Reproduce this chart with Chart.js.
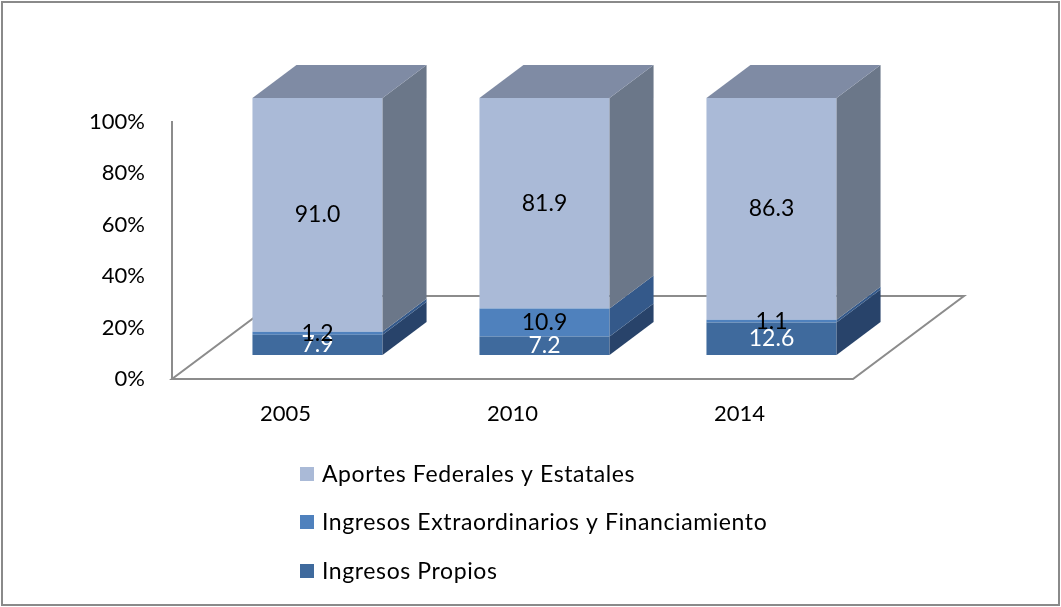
<!DOCTYPE html>
<html lang="es">
<head>
<meta charset="UTF-8">
<title>Estructura de ingresos</title>
<script src="https://cdn.jsdelivr.net/npm/chart.js@4/dist/chart.umd.min.js"></script>
<style>
    body { margin: 0; background: #fff; }
    canvas { display: block; }
</style>
</head>
<body>
<canvas id="grafica" width="1061" height="607"></canvas>
<script>
const categories = ['2005', '2010', '2014'];
const propios = [7.9, 7.2, 12.6];
const extraordinarios = [1.2, 10.9, 1.1];
const aportes = [91.0, 81.9, 86.3];
const yTicks = [0, 20, 40, 60, 80, 100];

// 100% stacked: each column is scaled to its own total
const totals = categories.map((c, i) => propios[i] + extraordinarios[i] + aportes[i]);
const share = arr => arr.map((v, i) => v / totals[i] * 100);

const FONT = 'Lato, "Open Sans", sans-serif';
// pseudo 3d geometry
const SHIFT_X = 32, SHIFT_Y = -24;   // bars sit a bit behind the floor front edge
const DEPTH_X = 44, DEPTH_Y = -33;   // column depth
const FLOOR_X = 111, FLOOR_Y = -83;  // floor depth

const box3d = {
    id: 'box3d',
    beforeDraw(chart) {
        const ctx = chart.ctx;
        ctx.save();
        ctx.fillStyle = '#fff';
        ctx.fillRect(0, 0, chart.width, chart.height);
        ctx.strokeStyle = '#8a8a8a';
        ctx.lineWidth = 2;
        ctx.strokeRect(2, 2, chart.width - 4, chart.height - 4);
        ctx.restore();
    },
    beforeDatasetsDraw(chart) {
        const ctx = chart.ctx;
        const x = chart.scales.x, y = chart.scales.y;
        const y0 = y.getPixelForValue(0);
        ctx.save();
        ctx.strokeStyle = '#8c8c8c';
        ctx.lineWidth = 2;
        ctx.beginPath();
        ctx.moveTo(x.left, y0);
        ctx.lineTo(x.right, y0);
        ctx.lineTo(x.right + FLOOR_X, y0 + FLOOR_Y);
        ctx.lineTo(x.left + FLOOR_X, y0 + FLOOR_Y);
        ctx.closePath();
        ctx.stroke();
        ctx.restore();
        ctx.save();
        ctx.translate(SHIFT_X, SHIFT_Y);
    },
    afterDatasetsDraw(chart) {
        const ctx = chart.ctx;
        const sets = chart.data.datasets;
        sets.forEach((ds, di) => {
            const meta = chart.getDatasetMeta(di);
            meta.data.forEach(bar => {
                const x2 = bar.x + bar.width / 2, x1 = bar.x - bar.width / 2;
                const top = Math.min(bar.y, bar.base), bot = Math.max(bar.y, bar.base);
                ctx.fillStyle = ds.sideColor;
                ctx.beginPath();
                ctx.moveTo(x2, top);
                ctx.lineTo(x2 + DEPTH_X, top + DEPTH_Y);
                ctx.lineTo(x2 + DEPTH_X, bot + DEPTH_Y);
                ctx.lineTo(x2, bot);
                ctx.closePath();
                ctx.fill();
                if (di === sets.length - 1) {
                    ctx.fillStyle = ds.topColor;
                    ctx.beginPath();
                    ctx.moveTo(x1, top);
                    ctx.lineTo(x1 + DEPTH_X, top + DEPTH_Y);
                    ctx.lineTo(x2 + DEPTH_X, top + DEPTH_Y);
                    ctx.lineTo(x2, top);
                    ctx.closePath();
                    ctx.fill();
                }
            });
        });
        // value labels on the front faces
        ctx.font = '23px ' + FONT;
        ctx.textAlign = 'center';
        ctx.textBaseline = 'middle';
        sets.forEach((ds, di) => {
            chart.getDatasetMeta(di).data.forEach((bar, i) => {
                ctx.fillStyle = ds.labelColor;
                ctx.fillText(ds.raw[i].toFixed(1), bar.x, (bar.y + bar.base) / 2);
            });
        });
        ctx.restore();
    },
    afterDraw(chart) {
        // vertical legend, top series first
        const ctx = chart.ctx;
        const rows = [474, 522, 571];
        ctx.save();
        ctx.font = '23px ' + FONT;
        ctx.letterSpacing = '0.6px';
        ctx.textBaseline = 'middle';
        ctx.textAlign = 'left';
        chart.data.datasets.slice().reverse().forEach((ds, k) => {
            ctx.fillStyle = ds.backgroundColor;
            ctx.fillRect(300, rows[k] - 7, 14, 14);
            ctx.fillStyle = '#000';
            ctx.fillText(ds.label, 322, rows[k] + 1);
        });
        ctx.restore();
    }
};

new Chart(document.getElementById('grafica'), {
    type: 'bar',
    plugins: [box3d],
    data: {
        labels: categories,
        datasets: [
            {
                label: 'Ingresos Propios',
                data: share(propios),
                raw: propios,
                backgroundColor: '#3f6a9d',
                sideColor: '#28436a',
                topColor: '#33577f',
                labelColor: '#ffffff'
            },
            {
                label: 'Ingresos Extraordinarios y Financiamiento',
                data: share(extraordinarios),
                raw: extraordinarios,
                backgroundColor: '#4f81bd',
                sideColor: '#34598a',
                topColor: '#3f6898',
                labelColor: '#000000'
            },
            {
                label: 'Aportes Federales y Estatales',
                data: share(aportes),
                raw: aportes,
                backgroundColor: '#aabad7',
                sideColor: '#6b7789',
                topColor: '#7f8ba4',
                labelColor: '#000000'
            }
        ]
    },
    options: {
        responsive: false,
        animation: false,
        layout: { padding: { left: 0, top: 122, right: 208, bottom: 0 } },
        datasets: {
            bar: { categoryPercentage: 1, barPercentage: 0.573, borderWidth: 0, clip: false }
        },
        plugins: {
            legend: { display: false },
            tooltip: { enabled: false }
        },
        scales: {
            x: {
                stacked: true,
                grid: { display: false, drawTicks: false },
                border: { display: false },
                ticks: { color: '#000', font: { family: FONT, size: 22 }, padding: 22 },
                afterFit: s => { s.height = 228; }
            },
            y: {
                stacked: true,
                min: 0,
                max: 100,
                afterBuildTicks: s => { s.ticks = yTicks.map(v => ({ value: v })); },
                grid: { display: false, drawTicks: false },
                border: { display: true, color: '#8c8c8c', width: 2 },
                ticks: { color: '#000', font: { family: FONT, size: 22 }, padding: 27,
                         callback: v => v + '%' },
                afterFit: s => { s.width = 172; }
            }
        }
    }
});
</script>
</body>
</html>
